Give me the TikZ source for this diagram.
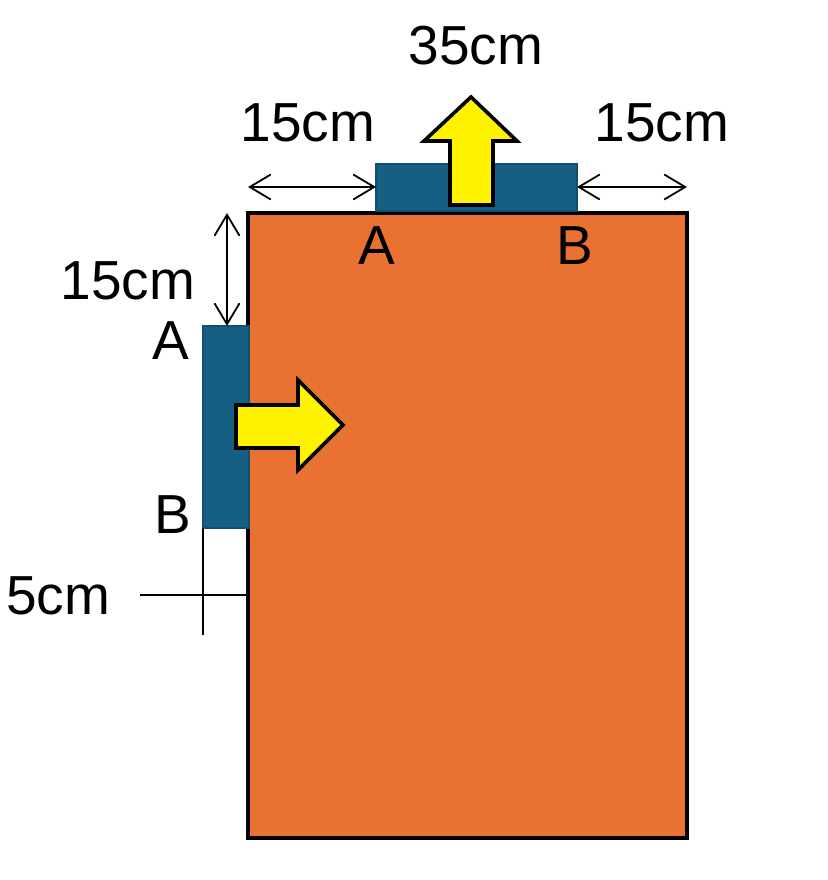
\documentclass[tikz,border=0pt]{standalone}
\usepackage{fontspec}
\setmainfont{Liberation Sans}
\usetikzlibrary{arrows.meta}
\definecolor{plate}{HTML}{E97132}
\definecolor{clamp}{HTML}{156082}
\definecolor{clampedge}{HTML}{10506E}
\tikzset{
  dim/.style={line width=1.8pt, {Straight Barb[length=21pt,width=25pt]}-{Straight Barb[length=21pt,width=25pt]}},
  lbl/.style={inner sep=0pt, font=\fontsize{55}{60}\selectfont},
  push/.style={fill=yellow, draw=black, line width=3.6pt, line join=miter},
  clampbox/.style={fill=clamp, draw=clampedge, line width=1.5pt},
  guide/.style={line width=1.8pt},
}

\begin{document}
\begin{tikzpicture}[x=1pt,y=-1pt]
		\useasboundingbox (0,0) rectangle (827,880);
		% plate and clamps
		\draw[fill=plate, line width=3.5pt] (248,213) rectangle (687,838);
		\draw[clampbox] (376,164) rectangle (577,211);
		\draw[clampbox] (203,326) rectangle (249,528);
		% push arrows
		\draw[push] (450,205) -- (450,141) -- (424,141) -- (471,97) -- (517,141) -- (493,141) -- (493,205) -- cycle;
		\draw[push] (236,405) -- (298,405) -- (298,380) -- (343,425) -- (298,470) -- (298,448) -- (236,448) -- cycle;
		% dimension points
		\coordinate (topLa) at (248,187);
		\coordinate (topLb) at (376,187);
		\coordinate (topRa) at (577,187);
		\coordinate (topRb) at (687,187);
		\coordinate (sideTa) at (227,213);
		\coordinate (sideTb) at (227,326);
		\coordinate (gapV) at (203,528);
		\coordinate (gapVend) at (203,635);
		\coordinate (gapH) at (140,595);
		\coordinate (gapHend) at (248,595);
		\draw[dim] (topLa) -- (topLb);
		\draw[dim] (topRa) -- (topRb);
		\draw[dim] (sideTa) -- (sideTb);
		\draw[guide] (gapV) -- (gapVend);
		\draw[guide] (gapH) -- (gapHend);
		% labels
		\node[lbl] (wTop) at (476,46) {35cm};
		\node[lbl] (lTop) at (308,123) {15cm};
		\node[lbl] (rTop) at (662,123) {15cm};
		\node[lbl] (aTop) at (377,246) {A};
		\node[lbl] (bTop) at (575,246) {B};
		\node[lbl] (hSide) at (128,281) {15cm};
		\node[lbl] (aSide) at (171,341) {A};
		\node[lbl] (bSide) at (173,515) {B};
		\node[lbl] (gSide) at (58,596) {5cm};
\end{tikzpicture}
\end{document}
